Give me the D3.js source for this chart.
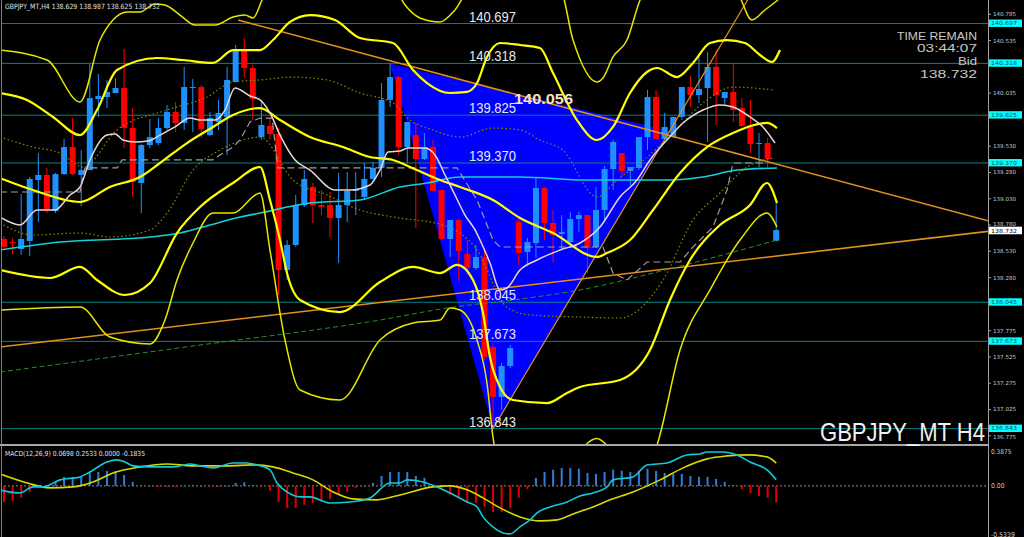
<!DOCTYPE html>
<html><head><meta charset="utf-8">
<script src="https://cdn.jsdelivr.net/npm/d3@7"></script>
<style>html,body{margin:0;padding:0;background:#000;}svg{display:block;}</style>
</head><body>
<svg id="c" width="1024" height="537"></svg>
<script>
// ---------- DATA ----------
const opens  = [138.647,138.618,138.552,138.628,139.208,139.256,138.913,139.265,139.522,139.256,139.303,139.979,139.998,140.036,140.084,139.703,139.180,139.541,139.560,139.703,139.855,139.751,140.084,140.093,139.636,139.760,139.808,140.141,140.455,140.274,139.617,139.722,139.646,138.352,138.590,138.970,139.142,138.970,138.970,138.847,138.970,139.104,139.047,139.218,139.323,139.970,140.188,139.522,139.636,139.408,139.522,139.113,138.647,138.828,138.504,138.371,138.476,137.619,137.144,137.439,138.809,138.523,138.609,139.132,138.799,138.695,138.618,138.837,138.875,138.571,138.923,139.313,139.465,139.294,139.323,139.617,139.998,139.598,139.617,139.808,140.093,140.017,140.084,140.284,139.988,140.046,139.893,139.713,139.551,139.560,138.629];
const highs  = [138.676,138.657,139.075,139.237,139.465,139.323,139.275,139.598,139.798,139.494,140.312,140.217,140.160,140.179,140.455,139.893,139.551,139.789,139.798,139.922,139.950,140.284,140.169,140.112,139.855,139.970,140.284,140.493,140.559,140.303,139.970,139.798,139.703,138.637,139.066,139.303,139.180,139.113,139.094,139.275,139.284,139.284,139.370,139.380,140.131,140.318,140.198,139.760,139.751,139.656,139.589,139.113,138.828,138.838,138.637,138.590,138.542,137.657,137.467,137.638,138.838,138.657,139.237,139.142,138.923,138.875,138.904,138.904,138.875,139.142,139.342,139.589,139.465,139.332,139.617,140.065,140.065,139.846,139.808,140.093,140.198,140.398,140.426,140.445,140.046,140.322,139.988,139.970,139.656,139.608,138.987];
const lows   = [138.542,138.504,138.495,138.485,138.809,138.894,138.894,139.256,139.256,138.961,139.303,139.808,139.893,140.036,139.513,139.047,138.894,139.513,139.541,139.684,139.665,139.684,139.665,139.608,139.627,139.684,139.446,140.141,140.188,139.779,139.589,139.589,138.114,138.257,138.571,138.951,138.799,138.875,138.666,138.419,138.809,138.875,139.018,139.208,139.237,139.903,139.446,139.370,138.752,139.399,139.094,138.637,138.476,138.257,138.305,138.352,137.496,136.843,137.020,137.420,138.400,138.400,138.466,138.637,138.419,138.542,138.609,138.714,138.324,138.561,138.828,139.113,139.237,139.161,139.303,139.494,139.589,139.589,139.608,139.779,139.903,139.941,139.570,139.732,139.922,139.760,139.713,139.465,139.332,139.323,138.625];
const closes = [138.571,138.609,138.647,139.218,139.256,138.932,139.265,139.522,139.265,139.303,139.988,140.008,140.046,140.084,139.703,139.189,139.541,139.617,139.703,139.855,139.751,140.093,140.093,139.694,139.798,139.846,140.160,140.445,140.274,139.979,139.732,139.646,138.352,138.590,138.970,139.218,138.970,138.951,138.847,138.970,139.104,139.113,139.218,139.323,139.970,140.188,139.522,139.760,139.408,139.522,139.104,138.647,138.828,138.533,138.371,138.476,137.524,137.144,137.439,137.610,138.514,138.618,139.132,138.799,138.685,138.714,138.837,138.875,138.561,138.923,139.313,139.570,139.294,139.332,139.617,139.998,139.598,139.713,139.808,140.093,140.017,140.074,140.284,140.017,140.046,139.874,139.722,139.551,139.560,139.408,138.732];

const priceTicks = [140.785,140.535,140.035,139.530,139.280,139.030,138.780,138.530,138.280,137.775,137.525,137.275,137.025,136.775];
const levels = [140.697,140.318,139.825,139.370,138.045,137.673,136.843];
const levelText = ["140.697","140.318","139.825","139.370","138.045","137.673","136.843"];
const bidPrice = 138.732;
const infoLines = ["TIME REMAIN","03:44:07","Bid","138.732"];

// indicator lines: [bar index, price]
const bbMid   = [[-0.47,139.227],[3.38,139.113],[8.86,138.999],[12.35,139.142],[15.85,139.237],[18.18,139.370],[21.33,139.560],[24.36,139.713],[26.69,139.827],[29.84,139.893],[32.17,139.779],[35.66,139.617],[39.51,139.522],[42.66,139.427],[45.34,139.399],[47.32,139.332],[50.82,139.208],[53.15,139.142],[56.99,139.018],[60.14,138.847],[63.99,138.704],[69.11,138.476],[70.28,138.514],[72.96,138.637],[75.64,138.923],[78.79,139.275],[81.93,139.522],[84.97,139.656],[88.93,139.751],[90.09,139.703]];
const bbUp1   = [[-0.47,139.617],[3.38,139.522],[6.53,139.465],[9.21,139.332],[13.17,139.684],[19.0,139.874],[23.66,139.998],[26.69,140.141],[29.84,140.160],[33.68,140.188],[37.65,140.160],[41.49,140.036],[45.34,139.941],[47.32,139.779],[50.0,139.684],[53.15,139.617],[56.99,139.703],[60.14,139.684],[62.47,139.589],[65.1,139.494],[69.11,139.047],[71.45,139.208],[74.13,139.370],[76.81,139.560],[81.93,139.970],[84.97,140.093],[89.63,140.065]];
const bbLo1   = [[-0.47,138.799],[3.38,138.685],[8.86,138.704],[12.35,138.666],[17.02,138.733],[19.0,138.894],[22.03,139.303],[25.17,139.494],[27.86,139.589],[29.84,139.617],[33.68,139.208],[37.65,139.066],[41.49,138.923],[45.34,138.856],[51.17,138.780],[55.13,138.542],[58.62,138.000],[61.31,137.924],[67.13,137.905],[71.79,137.895],[76.81,138.257],[80.3,138.828],[83.45,139.085],[86.6,139.332],[89.63,139.418]];
const bbUp2   = [[-0.47,140.036],[2.68,139.970],[5.71,139.808],[8.86,139.636],[10.84,139.874],[13.17,140.255],[17.83,140.369],[20.86,140.350],[24.36,140.322],[26.69,140.445],[29.84,140.445],[31.35,140.540],[33.33,140.712],[35.66,140.778],[38.58,140.731],[41.49,140.559],[45.34,140.512],[47.67,140.255],[49.3,140.131],[51.98,140.036],[53.96,140.046],[55.13,140.131],[56.29,140.379],[57.81,140.512],[60.14,140.493],[62.47,140.464],[63.99,140.226],[66.78,139.779],[69.11,139.589],[70.98,139.713],[72.96,140.036],[74.94,140.236],[76.11,140.274],[78.44,140.188],[80.3,140.322],[82.28,140.512],[84.27,140.540],[86.36,140.512],[88.11,140.398],[89.51,140.331],[90.44,140.445]];
const bbLo2   = [[-0.47,138.352],[5.36,138.276],[8.86,138.381],[10.84,138.257],[14.1,138.114],[17.02,138.228],[20.16,138.704],[22.84,138.951],[26.69,139.180],[29.84,139.332],[31.0,139.018],[32.17,138.637],[32.98,138.323],[34.5,138.067],[39.16,137.952],[43.82,138.238],[47.67,138.381],[50.82,138.323],[52.8,138.400],[54.66,138.257],[55.83,137.943],[56.64,137.524],[57.81,137.239],[59.32,137.115],[63.29,137.086],[65.62,137.182],[67.13,137.239],[71.79,137.305],[75.29,137.591],[77.62,138.067],[79.95,138.447],[83.45,138.780],[86.95,138.970],[88.93,139.180],[90.09,138.989]];
const bbUp3   = [[-0.47,140.445],[5.01,140.350],[8.86,139.951],[11.19,140.540],[12.7,140.731],[14.34,140.807],[15.85,140.807],[17.6,140.883],[18.76,140.873],[20.51,140.778],[22.26,140.683],[24.59,140.683],[26.69,140.759],[28.09,140.778],[29.02,140.750],[30.07,140.921],[31.0,141.11],[45.57,141.016],[46.74,140.873],[48.48,140.750],[50.82,140.712],[52.56,140.826],[54.31,141.016],[64.8,141.016],[66.32,140.540],[69.11,140.141],[69.81,140.179],[70.98,140.379],[72.61,140.540],[74.13,140.921],[75.29,141.11],[85.2,141.016],[87.18,140.731],[88.69,140.826],[90.21,140.921]];
const bbLo3   = [[-0.47,137.971],[8.86,138.000],[12.35,137.714],[17.02,137.648],[18.76,137.876],[20.16,138.257],[22.03,138.609],[24.36,138.894],[26.69,138.894],[29.84,139.085],[31.0,138.542],[32.75,137.686],[34.5,137.210],[39.16,137.115],[43.82,137.686],[47.67,137.848],[50.82,137.876],[51.98,137.990],[53.15,137.971],[55.13,137.686],[56.29,137.277],[56.99,136.763],[58.39,136.354],[64.8,136.20],[67.5,136.66],[69.11,136.75],[70.6,136.66],[74.13,136.354],[76.11,136.687],[78.79,137.591],[82.28,138.162],[85.78,138.637],[88.93,138.894],[90.09,138.761]];
const maFast  = [[-0.47,138.856],[1.86,138.780],[3.85,138.923],[5.94,138.923],[7.69,139.066],[8.86,139.142],[10.02,139.399],[12.0,139.636],[12.94,139.646],[13.87,139.589],[15.27,139.570],[16.78,139.579],[18.18,139.636],[19.93,139.713],[21.68,139.798],[22.84,139.779],[24.59,139.779],[25.76,139.874],[26.92,140.084],[28.67,140.008],[29.84,139.970],[31.0,139.846],[32.17,139.636],[33.92,139.399],[35.66,139.303],[38.58,139.113],[40.33,139.113],[42.66,139.161],[43.82,139.303],[44.76,139.475],[46.15,139.484],[47.09,139.513],[49.07,139.513],[50.23,139.446],[51.4,139.256],[52.56,139.066],[53.73,138.875],[54.9,138.733],[55.48,138.637],[56.64,138.418],[57.81,138.162],[58.62,138.181],[60.14,138.352],[62.12,138.447],[64.8,138.542],[67.13,138.609],[69.46,138.761],[71.79,139.047],[73.78,139.208],[75.29,139.399],[77.27,139.589],[79.14,139.751],[81.47,139.874],[83.45,139.922],[84.97,139.903],[86.95,139.808],[88.46,139.713],[89.86,139.560]];
const stepLine = [[-0.47,139.094],[8.86,139.094],[9.44,139.323],[13.17,139.323],[13.75,139.399],[24.36,139.399],[25.17,139.446],[26.69,139.522],[27.5,139.589],[28.67,139.760],[29.84,139.798],[31.24,139.798],[31.93,139.323],[52.8,139.323],[55.13,139.018],[56.99,138.637],[57.81,138.571],[69.81,138.571],[70.98,138.323],[72.61,138.257],[74.94,138.428],[78.79,138.428],[80.3,138.571],[82.63,138.761],[84.27,139.113],[84.97,139.370],[88.93,139.370]];
const maCyan  = [[-0.47,138.542],[6.53,138.618],[17.02,138.666],[20.51,138.704],[24.01,138.780],[27.5,138.856],[29.84,138.894],[35.66,138.989],[41.49,139.018],[46.15,139.142],[49.3,139.180],[53.15,139.237],[60.14,139.237],[67.95,139.208],[77.62,139.208],[81.47,139.237],[85.43,139.303],[90.09,139.323]];
const maGreen = [[-0.47,137.381],[22.84,137.638],[43.82,137.876],[51.63,137.990],[59.32,138.067],[67.13,138.162],[75.64,138.323],[90.09,138.637]];

// objects
const triangle  = [[45,140.318],[57,136.843],[77.6,139.675]];
const trendUp   = [[27.3,140.73],[114.7,138.82]];
const trendLow  = [[-0.47,137.62],[114.7,138.72]];
const triLeg    = [[57,136.843],[88,141.105]];

// MACD
const macdHist = [-0.178,-0.166,-0.133,-0.067,-0.01,0.01,0.044,0.10,0.10,0.10,0.144,0.155,0.166,0.166,0.122,0.044,0.005,0.0,-0.011,-0.011,-0.011,0.0,0.011,0.0,-0.005,-0.01,0.0,0.033,0.04,0.01,-0.01,-0.055,-0.178,-0.244,-0.244,-0.21,-0.19,-0.178,-0.144,-0.10,-0.067,-0.022,0.0,0.033,0.11,0.155,0.155,0.155,0.11,0.09,0.0,-0.044,-0.1,-0.133,-0.17,-0.19,-0.23,-0.29,-0.29,-0.25,-0.13,-0.035,0.09,0.155,0.18,0.2,0.2,0.19,0.144,0.133,0.155,0.18,0.17,0.155,0.17,0.19,0.166,0.144,0.133,0.133,0.11,0.1,0.1,0.077,0.044,0.01,-0.035,-0.08,-0.11,-0.133,-0.1835];
const macdMain = [[-0.47,-0.044],[1.86,-0.078],[3.38,-0.011],[4.55,-0.011],[6.53,0.067],[8.86,0.100],[10.02,0.155],[12.0,0.266],[13.17,0.289],[14.1,0.266],[15.03,0.222],[17.02,0.211],[19.7,0.211],[21.68,0.244],[22.84,0.222],[24.36,0.200],[26.69,0.255],[28.32,0.255],[29.49,0.233],[31.0,0.178],[31.82,0.033],[32.98,-0.067],[34.5,-0.122],[35.66,-0.122],[37.99,-0.189],[40.33,-0.178],[42.66,-0.133],[44.99,0.033],[46.15,0.033],[46.97,0.067],[48.83,0.044],[50.47,-0.011],[51.98,-0.078],[53.96,-0.178],[55.13,-0.233],[55.83,-0.344],[56.99,-0.455],[58.16,-0.522],[58.97,-0.533],[60.14,-0.455],[61.31,-0.377],[62.12,-0.300],[63.64,-0.233],[65.62,-0.178],[67.13,-0.111],[68.65,-0.078],[70.28,-0.011],[70.98,0.067],[73.31,0.100],[74.94,0.233],[77.27,0.255],[79.6,0.344],[81.12,0.355],[81.93,0.377],[83.8,0.377],[85.43,0.344],[86.95,0.266],[88.93,0.178],[90.0,0.0698]];
const macdSignal = [[-0.47,0.133],[2.68,0.033],[5.36,-0.022],[8.04,-0.011],[10.37,0.044],[12.7,0.144],[15.85,0.211],[19.0,0.244],[22.03,0.222],[25.99,0.222],[29.02,0.233],[31.35,0.211],[33.68,0.144],[36.01,0.067],[38.34,-0.067],[40.68,-0.144],[43.47,-0.155],[46.15,-0.100],[50.0,-0.011],[51.98,0.0],[53.96,-0.044],[55.83,-0.133],[57.81,-0.244],[60.14,-0.344],[62.47,-0.388],[64.45,-0.377],[66.32,-0.311],[68.65,-0.233],[70.63,-0.155],[73.31,-0.067],[76.46,0.067],[79.14,0.200],[81.93,0.300],[84.27,0.333],[86.6,0.344],[88.93,0.322],[90.0,0.2533]];
const macdTicks = [0.3875,0.0,-0.5339];
const macdTickText = ["0.3875","0.00","-0.5339"];

// ---------- DRAW ----------
const svg = d3.select('#c');
svg.append('rect').attr('width',1024).attr('height',537).attr('fill','#000');
const x  = d3.scaleLinear().domain([0,90]).range([4,776.2]);
const y  = d3.scaleLinear().domain([136.687,140.921]).range([445,0]);
const yM = d3.scaleLinear().domain([-0.5339,0.3875]).range([534,451]);

const defs = svg.append('defs');
defs.append('clipPath').attr('id','cm').append('rect').attr('x',2).attr('y',0).attr('width',986).attr('height',444);
defs.append('clipPath').attr('id','cd').append('rect').attr('x',2).attr('y',447).attr('width',986).attr('height',90);

const gm = svg.append('g').attr('clip-path','url(#cm)');
const ln = d3.line().x(d=>x(d[0])).y(d=>y(d[1]));
const lnC = d3.line().x(d=>x(d[0])).y(d=>y(d[1])).curve(d3.curveMonotoneX);

gm.append('path').attr('d', ln(triangle)+'Z').attr('fill','#0000ff');

gm.selectAll('line.lv').data(levels).enter().append('line')
  .attr('x1',0).attr('x2',988).attr('y1',d=>y(d)).attr('y2',d=>y(d))
  .attr('stroke','#0a8282').attr('stroke-width',1);

const idx = d3.range(opens.length);
const cg = gm.append('g');
idx.forEach(i=>{
  const up = closes[i] >= opens[i];
  const col = up ? '#1e90ff' : '#ff0000';
  cg.append('line').attr('x1',x(i)).attr('x2',x(i)).attr('y1',y(highs[i])).attr('y2',y(lows[i]))
    .attr('stroke',col).attr('stroke-width',1);
  const top = y(Math.max(opens[i],closes[i])), bot = y(Math.min(opens[i],closes[i]));
  cg.append('rect').attr('x',x(i)-3).attr('width',6).attr('y',top).attr('height',Math.max(1,bot-top)).attr('fill',col);
});

[trendUp,trendLow,triLeg].forEach((t,k)=>{
  gm.append('path').attr('d',ln(t)).attr('fill','none').attr('stroke','#e0901c').attr('stroke-width',k===2?1.2:1.6);
});

function drawLine(data,color,width,dash,curve){
  gm.append('path').attr('d',(curve===false?ln:lnC)(data)).attr('fill','none')
    .attr('stroke',color).attr('stroke-width',width).attr('stroke-dasharray',dash||null);
}
drawLine(maGreen,'#2e8b2e',1,'5,3');
drawLine(maCyan,'#10d0d8',1.6);
drawLine(stepLine,'#a89a9a',1.2,'7,4',false);
drawLine(bbUp1,'#8a8a00',1.2,'1.5,2.5');
drawLine(bbLo1,'#8a8a00',1.2,'1.5,2.5');
drawLine(bbUp3,'#e6e600',1.5);
drawLine(bbLo3,'#e6e600',1.5);
drawLine(bbUp2,'#ffff00',2.2);
drawLine(bbLo2,'#ffff00',2.2);
drawLine(bbMid,'#ffff00',2.2);
drawLine(maFast,'#e8d6d6',1.5);

const tf = 'Liberation Sans, Arial, sans-serif';
gm.selectAll('text.lvt').data(levels).enter().append('text')
  .attr('x',469).attr('y',d=>y(d)-2).text((d,i)=>levelText[i])
  .attr('font-family',tf).attr('font-size',14.5)
  .attr('textLength',47).attr('lengthAdjust','spacingAndGlyphs').attr('fill','#e8e8e8');
gm.append('text').attr('x',514).attr('y',103.5).text('140.056')
  .attr('font-family',tf).attr('font-size',15.5).attr('font-weight','bold')
  .attr('textLength',59).attr('lengthAdjust','spacingAndGlyphs').attr('fill','#f4e2c8');

svg.append('line').attr('x1',1.5).attr('x2',1.5).attr('y1',0).attr('y2',537).attr('stroke','#808080');
svg.append('line').attr('x1',988.5).attr('x2',988.5).attr('y1',0).attr('y2',537).attr('stroke','#a0a0a0');
svg.append('rect').attr('x',0).attr('y',444).attr('width',989).attr('height',2).attr('fill','#a8a8a8');

const ax = svg.append('g');
priceTicks.forEach(v=>{
  const dy = Math.abs(v-138.780)<1e-6 ? 0.5 : (Math.abs(v-136.775)<1e-6 ? 3.2 : 2);
  ax.append('line').attr('x1',988).attr('x2',991).attr('y1',y(v)).attr('y2',y(v)).attr('stroke','#a0a0a0');
  ax.append('text').attr('x',993).attr('y',y(v)+dy).text(v.toFixed(3))
    .attr('font-family','DejaVu Sans, sans-serif').attr('font-size',5.4).attr('fill','#c8c8c8')
    .attr('textLength',23).attr('lengthAdjust','spacingAndGlyphs');
});
levels.forEach((v,i)=>{
  ax.append('rect').attr('x',989).attr('y',y(v)-4).attr('width',33).attr('height',7.4).attr('fill','#00ffff');
  ax.append('text').attr('x',991).attr('y',y(v)+1.6).text(levelText[i])
    .attr('font-family','DejaVu Sans, sans-serif').attr('font-size',5.6).attr('fill','#005050')
    .attr('textLength',26).attr('lengthAdjust','spacingAndGlyphs');
});
ax.append('rect').attr('x',989).attr('y',y(bidPrice)-3.4).attr('width',33).attr('height',7.6).attr('fill','#ffffff');
ax.append('text').attr('x',991).attr('y',y(bidPrice)+2.8).text(bidPrice.toFixed(3))
  .attr('font-family','DejaVu Sans, sans-serif').attr('font-size',5.6).attr('fill','#000')
  .attr('textLength',26).attr('lengthAdjust','spacingAndGlyphs');

svg.append('text').attr('x',5).attr('y',9).text('GBPJPY_MT,H4  138.629 138.987 138.625 138.732')
  .attr('font-family','DejaVu Sans, sans-serif').attr('font-size',7.2).attr('fill','#e0e0e0')
  .attr('textLength',155).attr('lengthAdjust','spacingAndGlyphs');

// info block (top right)
const infoPos = [[897,39.6,80],[917,52.4,60],[958,65.2,19],[920,78,57]];
infoLines.forEach((s,i)=>{
  svg.append('text').attr('x',infoPos[i][0]).attr('y',infoPos[i][1]).text(s)
    .attr('font-family',tf).attr('font-size',11.3).attr('fill','#c8c8c8')
    .attr('textLength',infoPos[i][2]).attr('lengthAdjust','spacingAndGlyphs');
});
// symbol watermark (bottom right), font sized so its natural width fits before the axis
svg.append('g').attr('transform','translate(820,441) scale(1,1.15)')
  .append('text').attr('x',0).attr('y',0).text('GBPJPY_MT H4').attr('font-family',tf).attr('font-size',22)
  .attr('fill','#f0f0f0').attr('textLength',165).attr('lengthAdjust','spacingAndGlyphs');

// ---------- MACD ----------
const gd = svg.append('g').attr('clip-path','url(#cd)');
gd.append('line').attr('x1',0).attr('x2',988).attr('y1',yM(0)).attr('y2',yM(0))
  .attr('stroke','#909090').attr('stroke-dasharray','2,2');
macdHist.forEach((v,i)=>{
  gd.append('rect').attr('x',x(i)-1).attr('width',2)
    .attr('y',Math.min(yM(0),yM(v))).attr('height',Math.max(0.5,Math.abs(yM(v)-yM(0))))
    .attr('fill', v>=0 ? '#2a7fd8' : '#dd0000');
});
const lm = d3.line().x(d=>x(d[0])).y(d=>yM(d[1])).curve(d3.curveMonotoneX);
gd.append('path').attr('d',lm(macdSignal)).attr('fill','none').attr('stroke','#d8d800').attr('stroke-width',1.6);
gd.append('path').attr('d',lm(macdMain)).attr('fill','none').attr('stroke','#10c8d8').attr('stroke-width',1.6);
svg.append('text').attr('x',5).attr('y',456).text('MACD(12,26,9) 0.0698 0.2533 0.0000 -0.1835')
  .attr('font-family','DejaVu Sans, sans-serif').attr('font-size',7).attr('fill','#e0e0e0')
  .attr('textLength',140).attr('lengthAdjust','spacingAndGlyphs');
macdTicks.forEach((v,i)=>{
  svg.append('text').attr('x',991).attr('y',yM(v)+2.5).text(macdTickText[i])
    .attr('font-family','DejaVu Sans, sans-serif').attr('font-size',6.6).attr('fill','#c8c8c8')
    .attr('textLength',macdTickText[i].length*3.4).attr('lengthAdjust','spacingAndGlyphs');
});
</script>
</body></html>
